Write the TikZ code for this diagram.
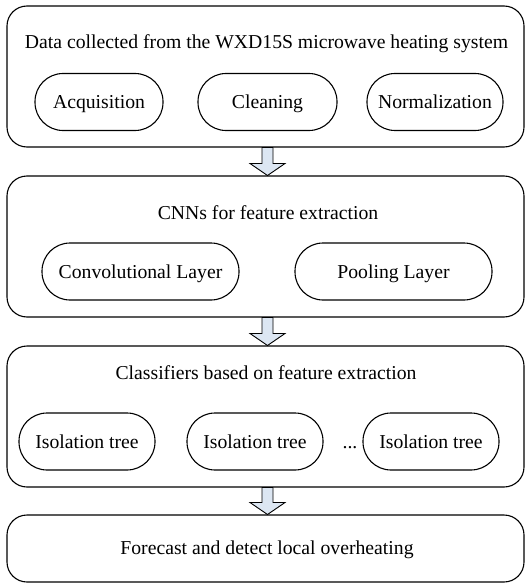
\documentclass[tikz,border=0pt]{standalone}
\usepackage{fontspec}
\setmainfont{Liberation Serif}
\usetikzlibrary{calc}
\definecolor{arrowfill}{HTML}{DCE6F2}
\tikzset{
  bigbox/.style={draw, line width=1.1pt, rounded corners=20pt, inner sep=0pt},
  pill/.style={draw, line width=1.1pt, rounded corners=28pt, inner sep=0pt, minimum height=57pt, text height=15.5pt, text depth=2.5pt, font=\fontsize{19.7}{22}\selectfont},
  ttl/.style={inner sep=0pt, text height=15.5pt, text depth=2.5pt, font=\fontsize{19.7}{22}\selectfont},
  fatarrow/.style={draw, line width=0.9pt, fill=arrowfill, line join=miter}
}
\newcommand{\fatarrowdraw}[2]{%
  \draw[fatarrow] ($(#1.south)+(-5.5pt,0)$) -- ($(#2.north)+(-5.5pt,12pt)$) -- ($(#2.north)+(-17.5pt,12pt)$) -- (#2.north) -- ($(#2.north)+(17.5pt,12pt)$) -- ($(#2.north)+(5.5pt,12pt)$) -- ($(#1.south)+(5.5pt,0)$) -- cycle;}
\begin{document}
\begin{tikzpicture}[x=1pt,y=1pt]
\useasboundingbox (0,0) rectangle (527,-583);
% boxes
\node[bigbox, minimum width=517pt, minimum height=141pt] (b1) at (265.5,-76.5) {};
\node[bigbox, minimum width=517pt, minimum height=141pt] (b2) at (265.5,-246.5) {};
\node[bigbox, minimum width=517pt, minimum height=141pt] (b3) at (265.5,-416.5) {};
\node[bigbox, minimum width=517pt, minimum height=67pt] (b4) at (265.5,-548.5) {};
% titles
\node[ttl] (t1) at (266.5,-42) {Data collected from the WXD15S microwave heating system};
\node[ttl] (t2) at (268,-213) {CNNs for feature extraction};
\node[ttl] (t3) at (266,-373) {Classifiers based on feature extraction};
\node[ttl] (t4) at (267,-548) {Forecast and detect local overheating};
% pills row 1
\node[pill, minimum width=128pt] (p11) at (99,-102) {Acquisition};
\node[pill, minimum width=139pt] (p12) at (267.5,-102) {Cleaning};
\node[pill, minimum width=136pt] (p13) at (435,-102) {Normalization};
% pills row 2
\node[pill, minimum width=197pt] (p21) at (140.5,-271.5) {Convolutional Layer};
\node[pill, minimum width=197pt] (p22) at (393.5,-271.5) {Pooling Layer};
% pills row 3
\node[pill, minimum width=136pt] (p31) at (87,-441.5) {Isolation tree};
\node[pill, minimum width=136pt] (p32) at (255,-441.5) {Isolation tree};
\node[ttl] (dots) at (350,-441.5) {...};
\node[pill, minimum width=136pt] (p33) at (431,-441.5) {Isolation tree};
% arrows
\coordinate (a1s) at (267.5,-147.5);
\coordinate (a1e) at (267.5,-175.5);
\coordinate (a2s) at (267.5,-317.5);
\coordinate (a2e) at (267.5,-345.5);
\coordinate (a3s) at (267.5,-487.5);
\coordinate (a3e) at (267.5,-514.5);
\fatarrowdraw{a1s}{a1e}
\fatarrowdraw{a2s}{a2e}
\fatarrowdraw{a3s}{a3e}
\end{tikzpicture}
\end{document}
